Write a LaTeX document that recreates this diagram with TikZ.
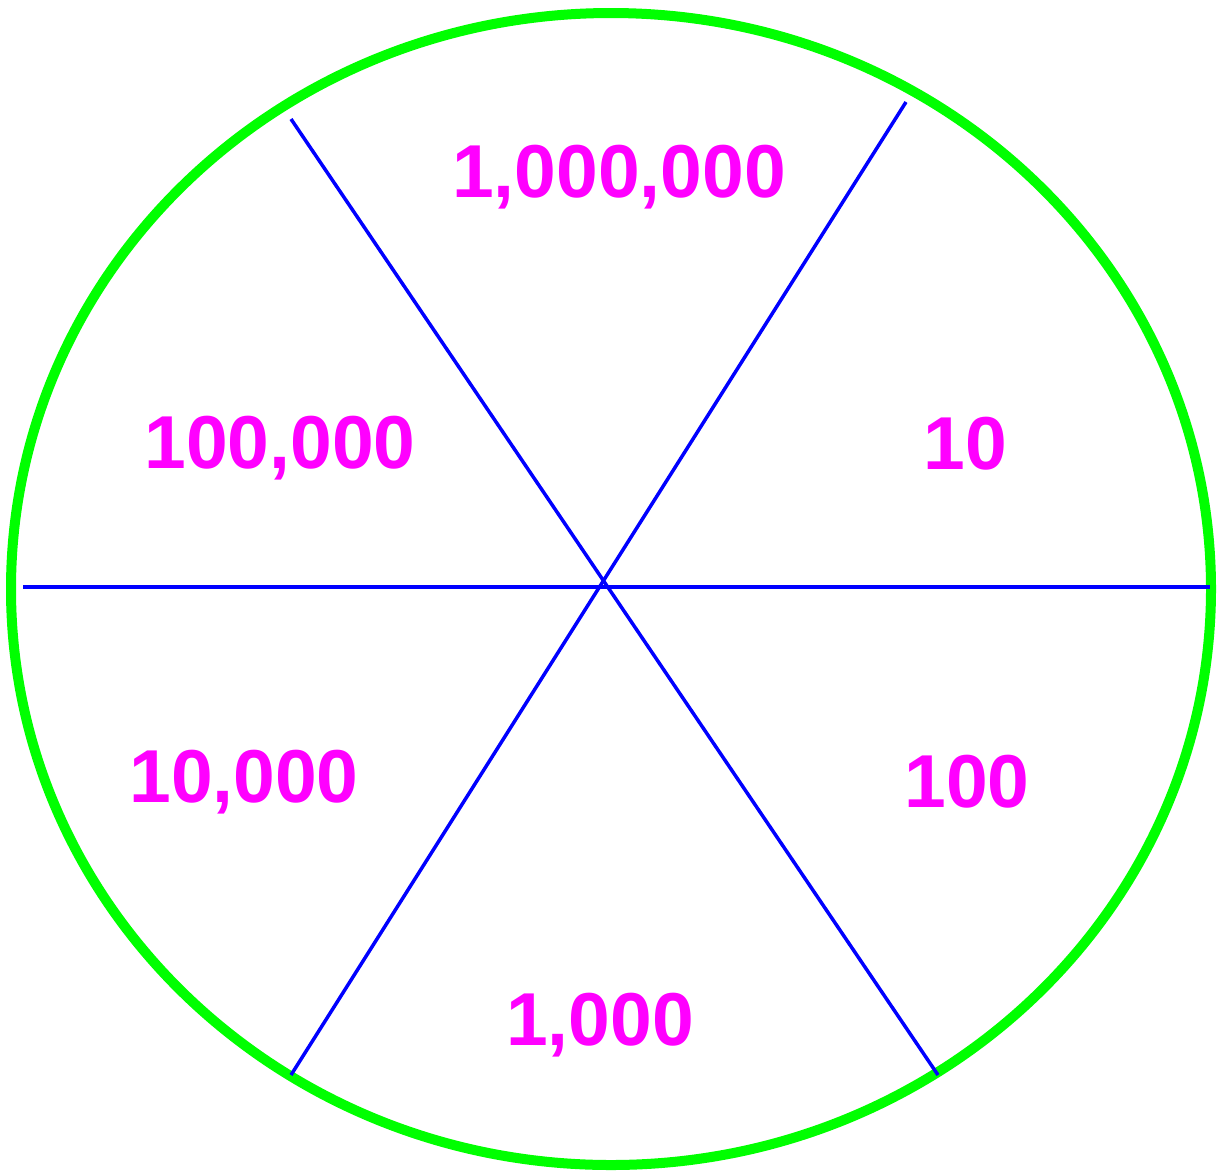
\documentclass[tikz,border=0pt]{standalone}
\usepackage{fontspec}
\setmainfont{Liberation Sans}
\begin{document}
\begin{tikzpicture}[x=1pt,y=-1pt,
  rim/.style={draw={rgb,255:red,0;green,255;blue,0},line width=10pt},
  spoke/.style={draw={rgb,255:red,0;green,0;blue,255},line width=3.5pt},
  lab/.style={text={rgb,255:red,255;green,0;blue,255},font=\fontsize{75}{80}\selectfont\bfseries,inner sep=0pt}]
\useasboundingbox (0,0) rectangle (1220,1171);
\path[rim] (611,589) ellipse [x radius=600, y radius=576];
\coordinate (c) at (603,587);
\coordinate (l) at (23,587);
\coordinate (r) at (1210,587);
\coordinate (ul) at (291,119);
\coordinate (lr) at (938,1075);
\coordinate (ur) at (906,102);
\coordinate (ll) at (291,1075);
\draw[spoke] (l) -- (r);
\draw[spoke] (ul) -- (lr);
\draw[spoke] (ur) -- (ll);
\node[lab] (a) at (619,177) {1,000,000};
\node[lab] (b) at (965,444) {10};
\node[lab] (d) at (280,448) {100,000};
\node[lab] (e) at (967,782) {100};
\node[lab] (f) at (244,782) {10,000};
\node[lab] (g) at (600,1025) {1,000};
\end{tikzpicture}
\end{document}
